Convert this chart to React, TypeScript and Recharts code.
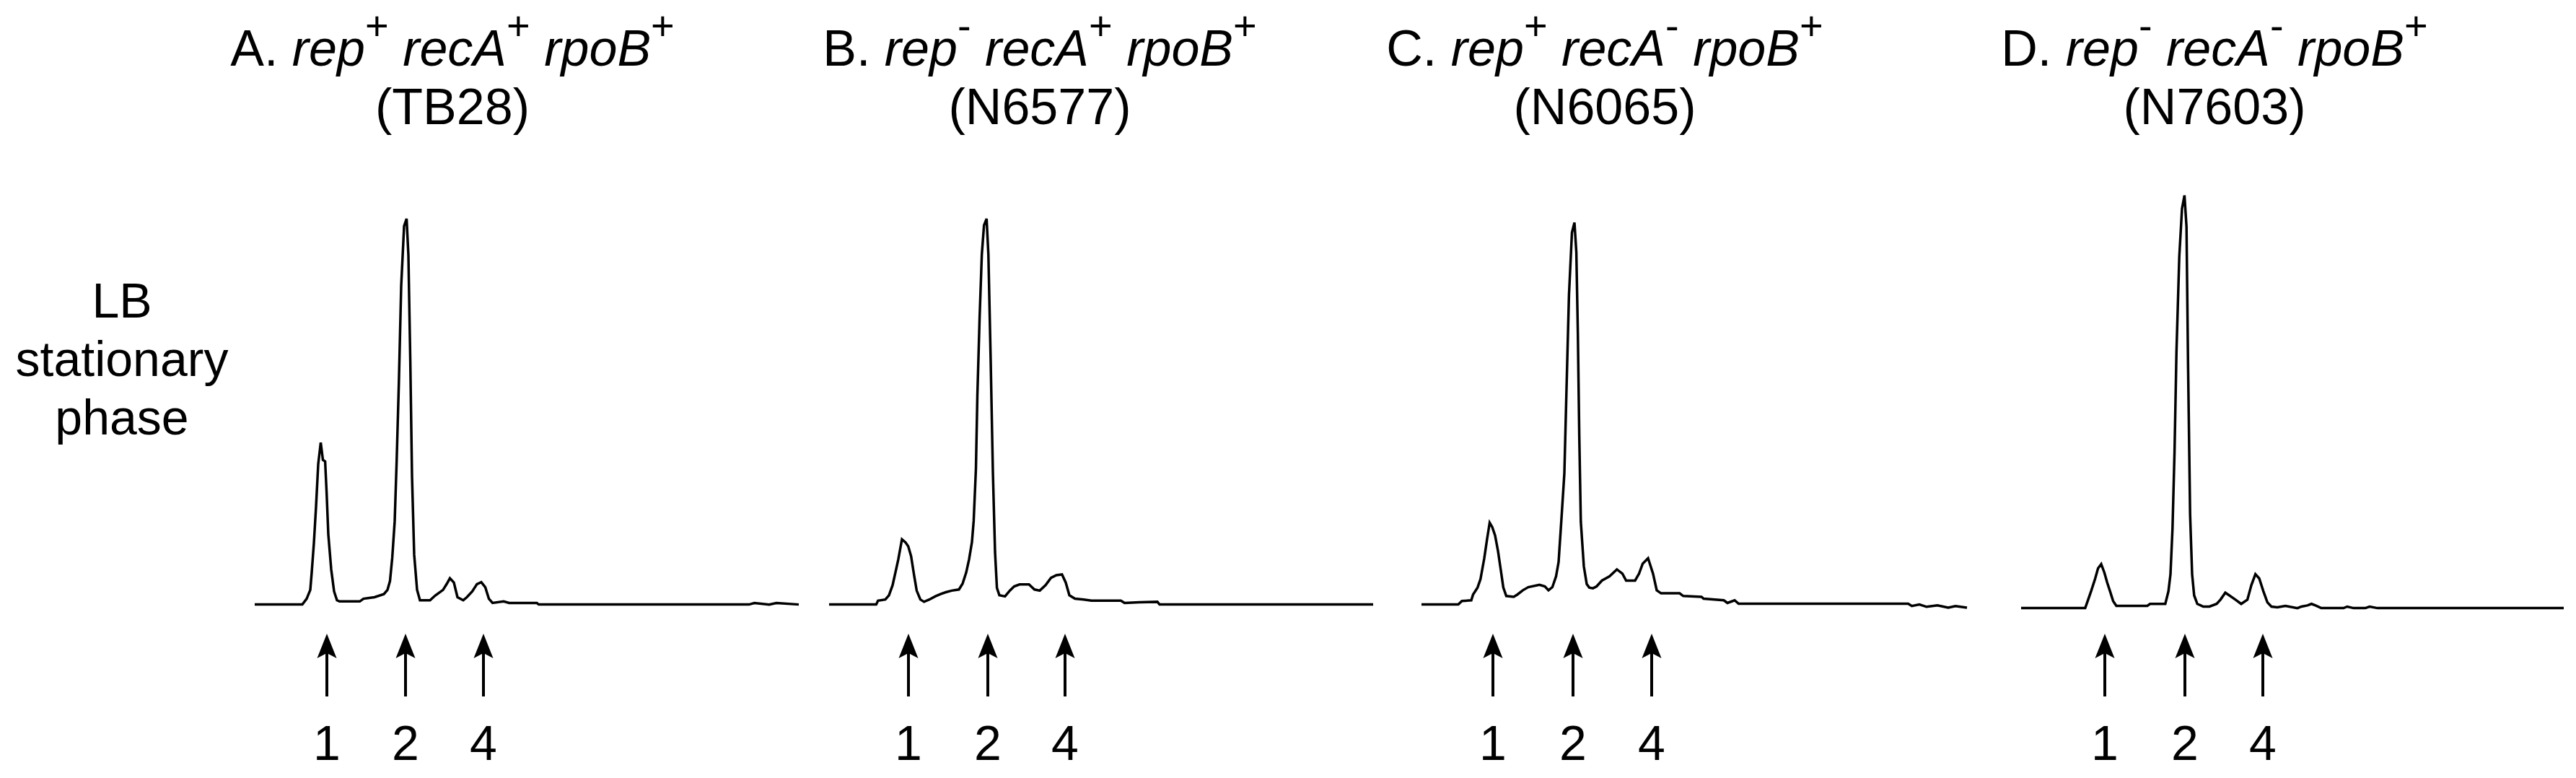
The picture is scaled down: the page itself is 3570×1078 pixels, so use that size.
import React from "react";
import { LineChart, Line, XAxis, YAxis } from "recharts";

// densitometer scans of each lane: [scan position, signal]
const scanA: [number, number][] = [
  [0, 0], [66, 0], [72, 1.5], [77, 3.8], [79, 8.3], [82, 15.9], [85, 25.4], [88, 36.4],
  [91.5, 42], [94.5, 37.5], [97.6, 37.1], [99.6, 29.2], [102, 18.2], [106, 9.1], [110, 3.4],
  [114, 1.1], [117.5, 0.8], [145.6, 0.8], [150.7, 1.5], [166, 1.9], [179, 2.7], [184, 3.8],
  [187.5, 6.1], [190.6, 12.1], [194, 21.6], [196.7, 37.1], [199.8, 57.6], [203, 82.6],
  [207, 98.1], [210.5, 100], [213, 90.5], [215.6, 63.3], [218, 33.3], [221, 12.9], [225, 3.8],
  [229, 1.1], [243, 1.1], [250, 2.3], [261, 3.8], [266, 5.3], [270.5, 6.8], [276, 5.7],
  [281, 1.9], [289, 1.1], [294, 1.9], [301.5, 3.4], [308, 5.3], [314, 5.8], [319.5, 4.5],
  [324.5, 1.5], [329.6, 0.4], [345, 0.8], [352.6, 0.4], [391, 0.4], [393.5, 0], [685, 0],
  [692.5, 0.4], [713, 0], [723, 0.4], [754, 0],
];

const scanB: [number, number][] = [
  [0, 0], [65.3, 0], [67.8, 1], [78, 1.3], [83, 2.4], [88, 5], [92.3, 8.6], [95.9, 11.7],
  [101, 16.9], [106, 16.1], [109.7, 15.1], [113.7, 12.5], [117.8, 7.6], [121.4, 3.6],
  [126.5, 1.3], [131.6, 0.7], [139, 1.3], [147, 2.1], [154.5, 2.7], [162, 3.2], [170, 3.6],
  [180, 3.9], [185, 5.4], [190, 8.3], [194, 11.7], [198, 16.2], [200.4, 21.7], [203.5, 35.2],
  [205.5, 54.1], [208.6, 74.3], [211.7, 90.8], [214.7, 98.3], [218.3, 100], [220.8, 90.6],
  [223.9, 63.8], [227, 34.4], [230, 13.6], [232.6, 4.3], [236, 2.4], [243.8, 2.1],
  [250.4, 3.6], [256.5, 4.7], [264, 5.2], [277, 5.2], [284.6, 3.9], [292, 3.6], [300, 5],
  [307.5, 6.9], [315, 7.6], [322.8, 7.8], [328, 5.7], [333, 2.4], [340.7, 1.5], [353, 1.3],
  [363.6, 1], [404.4, 1], [409.5, 0.4], [430, 0.6], [455, 0.7], [458, 0], [754, 0],
];

const scanC: [number, number][] = [
  [0, 0], [51, 0], [56, 0.9], [69, 1.1], [71.5, 2.6], [77.7, 4.4], [81.8, 6.6], [87, 12],
  [91, 17.1], [94.5, 21.2], [98, 20.1], [102, 17.9], [106, 13.9], [110, 8.8], [113.4, 4.4],
  [117.5, 2.2], [127.8, 2], [133, 2.6], [140.5, 3.7], [148, 4.5], [163.5, 5.1], [171, 4.7],
  [176, 3.7], [181.4, 4.5], [186.5, 7.3], [190, 11], [194, 22.3], [198, 34], [200.8, 54.5],
  [204.4, 80.3], [208.5, 96.4], [212, 99], [214.6, 91.3], [216.7, 70.4], [218.7, 43.4],
  [220.8, 21.5], [225, 9.9], [229, 5.3], [232.5, 4.4], [237.6, 4.2], [242.7, 4.7], [250, 6.2],
  [260.6, 7.3], [270.8, 9.1], [278.5, 8], [283.6, 6.2], [296, 6.2], [301.5, 8], [306.6, 10.6],
  [314, 12], [320.9, 8], [326, 3.7], [332, 2.9], [357.7, 2.9], [362.8, 2.2], [388, 2],
  [391, 1.5], [419, 1.1], [424, 0.4], [434, 1.1], [439.5, 0.2], [674.5, 0.2], [679.6, -0.4],
  [690, 0], [700, -0.6], [715, -0.2], [730, -0.8], [740, -0.4], [756, -0.8],
];

const scanD: [number, number][] = [
  [0, 0], [88.8, 0], [91.6, 1.5], [97, 4.4], [102.7, 7.7], [106.6, 10.3], [111, 11.4],
  [115.4, 9.2], [119.3, 6.6], [123.2, 4.4], [127.6, 1.8], [132, 0.6], [174.8, 0.6],
  [178.7, 1.1], [199.8, 1.1], [204.2, 4.4], [207, 8.8], [209.8, 20.6], [212.6, 40.4],
  [215.3, 66.5], [219.2, 91.1], [223, 103.6], [226.4, 107], [229.2, 98.9], [231.4, 62.5],
  [234.2, 24.3], [237, 8.8], [239.8, 3.3], [244.2, 1.1], [252.5, 0.4], [261, 0.4], [271, 1.1],
  [276.3, 2.2], [283, 4], [288.6, 3.3], [297, 2.2], [305, 1.1], [313.6, 2.2], [319, 5.9],
  [324.7, 8.8], [330, 7.7], [335.7, 4.4], [341.3, 1.5], [346.9, 0.4], [355, 0.2], [366.3, 0.6],
  [383, 0], [388.5, 0.4], [396.8, 0.7], [402.4, 1.1], [408, 0.7], [416, 0], [446.8, 0],
  [452, 0.4], [460.7, 0], [477, 0], [482.9, 0.4], [494, 0], [752, 0],
];

// band positions marked with arrows, and their labels
const bandLabels = ["1", "2", "4"];
const bandsA = [100, 209, 317];
const bandsB = [110, 220, 327];
const bandsC = [99, 210, 319];
const bandsD = [116, 227, 335];

const panelLetters = ["A.", "B.", "C.", "D."];
const repAlleles = ["+", "-", "+", "-"];
const recAAlleles = ["+", "+", "-", "-"];
const rpoBAlleles = ["+", "+", "+", "+"];
const strains = ["TB28", "N6577", "N6065", "N7603"];
const rowLabel = ["LB", "stationary", "phase"];

const font = "'Liberation Sans', Arial, sans-serif";
const scans = [scanA, scanB, scanC, scanD];
const bands = [bandsA, bandsB, bandsC, bandsD];
const traceLeft = [353, 1149, 1970, 2801];
const titleCenter = [627, 1441, 2224, 3069];
const baseShift = [0, 0, 0, 5];
const SIDE = 20;

function BandTick(props: any) {
  const { x, index } = props;
  return (
    <g>
      <line x1={x} x2={x} y1={904} y2={965} stroke="#000" strokeWidth={4} />
      <polygon
        points={`${x},878 ${x - 13.5},912 ${x},905 ${x + 13.5},912`}
        fill="#000"
      />
      <text
        x={x}
        y={1053}
        textAnchor="middle"
        fontSize={68}
        fontFamily={font}
        fill="#000"
      >
        {bandLabels[index]}
      </text>
    </g>
  );
}

const sup: React.CSSProperties = {
  fontSize: 56,
  verticalAlign: 36,
  lineHeight: 0,
  fontStyle: "normal",
};

function Title({ i }: { i: number }) {
  const c = titleCenter[i];
  const box: React.CSSProperties = {
    position: "absolute",
    left: c - 500,
    width: 1000,
    textAlign: "center",
    fontFamily: font,
    fontSize: 70,
    lineHeight: "81px",
    whiteSpace: "nowrap",
    color: "#000",
  };
  return (
    <>
      <div style={{ ...box, top: 27 }}>
        {panelLetters[i]} <i>rep</i>
        <span style={sup}>{repAlleles[i]}</span> <i>recA</i>
        <span style={sup}>{recAAlleles[i]}</span> <i>rpoB</i>
        <span style={sup}>{rpoBAlleles[i]}</span>
      </div>
      <div style={{ ...box, top: 108 }}>({strains[i]})</div>
    </>
  );
}

function Panel({ i }: { i: number }) {
  const data = scans[i].map(([x, y]) => ({ x, y }));
  const span = scans[i][scans[i].length - 1][0];
  const shift = baseShift[i];
  return (
    <div style={{ position: "absolute", left: traceLeft[i] - SIDE, top: 0 }}>
      <LineChart
        width={span + SIDE * 2}
        height={1078}
        data={data}
        margin={{ top: 239 + shift, right: SIDE, bottom: 0, left: SIDE }}
      >
        <XAxis
          dataKey="x"
          type="number"
          domain={[0, span]}
          ticks={bands[i]}
          interval={0}
          axisLine={false}
          tickLine={false}
          tickSize={0}
          tickMargin={0}
          height={219 - shift}
          tick={<BandTick />}
        />
        <YAxis hide type="number" domain={[-4, 112]} />
        <Line
          dataKey="y"
          type="linear"
          stroke="#000"
          strokeWidth={3.5}
          dot={false}
          isAnimationActive={false}
        />
      </LineChart>
    </div>
  );
}

export default function App() {
  return (
    <div
      style={{
        position: "absolute",
        left: 0,
        top: 0,
        width: 3570,
        height: 1078,
        background: "#fff",
        overflow: "hidden",
      }}
    >
      <div
        style={{
          position: "absolute",
          left: 169 - 200,
          width: 400,
          top: 376,
          textAlign: "center",
          fontFamily: font,
          fontSize: 68,
          lineHeight: "81px",
          color: "#000",
        }}
      >
        {rowLabel.map((t) => (
          <div key={t}>{t}</div>
        ))}
      </div>
      {[0, 1, 2, 3].map((i) => (
        <Title key={"t" + i} i={i} />
      ))}
      {[0, 1, 2, 3].map((i) => (
        <Panel key={"p" + i} i={i} />
      ))}
    </div>
  );
}
